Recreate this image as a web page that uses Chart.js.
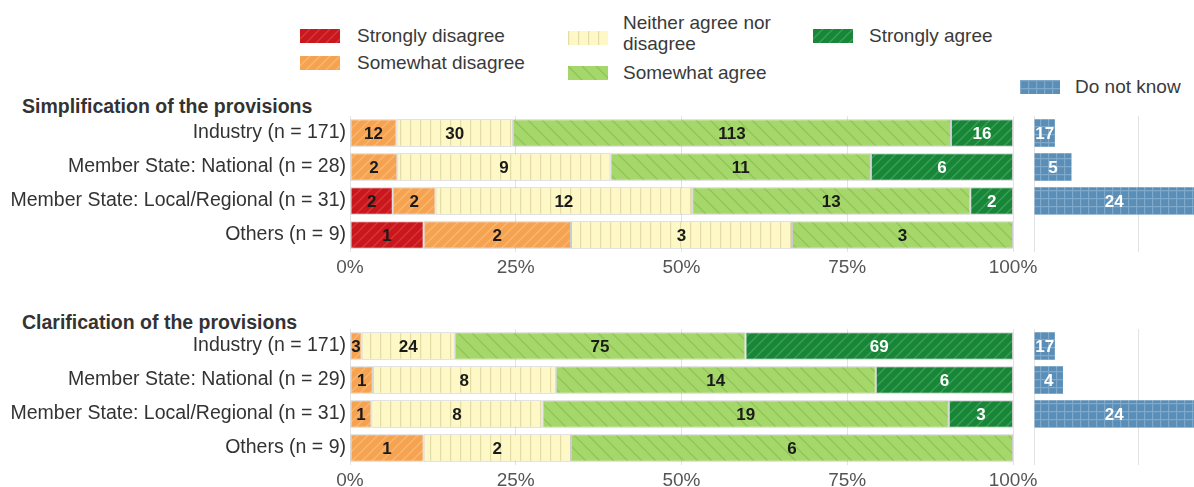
<!DOCTYPE html>
<html>
<head>
<meta charset="utf-8">
<script src="https://cdn.jsdelivr.net/npm/chart.js@4.4.0/dist/chart.umd.min.js"></script>
<style>
  html, body { margin: 0; padding: 0; overflow: hidden; background: #fff; }
  #wrap { position: relative; width: 1194px; height: 487px; overflow: hidden; background: #fff;
          font-family: "Liberation Sans", Arial, sans-serif; color: #333; }
  .box { position: absolute; }
  .sw { position: absolute; width: 40px; height: 14px; }
  .lt { position: absolute; font-size: 19px; line-height: 21px; white-space: nowrap; color: #3a3a3a; }
  .title { position: absolute; left: 22px; font-size: 19.5px; font-weight: bold; line-height: 22px; color: #333; }
</style>
</head>
<body>
<div id="wrap">
  <div class="sw" id="sw0" style="left:300px;top:29px"></div>
  <div class="lt" style="left:357px;top:25px">Strongly disagree</div>
  <div class="sw" id="sw1" style="left:300px;top:56px"></div>
  <div class="lt" style="left:357px;top:52px">Somewhat disagree</div>
  <div class="sw" id="sw2" style="left:568px;top:31px"></div>
  <div class="lt" style="left:623px;top:12px">Neither agree nor<br>disagree</div>
  <div class="sw" id="sw3" style="left:568px;top:66px"></div>
  <div class="lt" style="left:623px;top:62px">Somewhat agree</div>
  <div class="sw" id="sw4" style="left:813px;top:29px"></div>
  <div class="lt" style="left:869px;top:25px">Strongly agree</div>
  <div class="sw" id="sw5" style="left:1020px;top:80px"></div>
  <div class="lt" style="left:1075px;top:76px">Do not know</div>

  <div class="title" style="top:95px">Simplification of the provisions</div>
  <div class="title" style="top:311px">Clarification of the provisions</div>

  <div class="box" style="left:0;top:110px;width:1050px;height:173px"><canvas id="simpMain"></canvas></div>
  <div class="box" style="left:1024px;top:110px;width:170px;height:173px"><canvas id="simpDk"></canvas></div>
  <div class="box" style="left:0;top:323px;width:1050px;height:173px"><canvas id="clarMain"></canvas></div>
  <div class="box" style="left:1024px;top:323px;width:170px;height:173px"><canvas id="clarDk"></canvas></div>
</div>
<script>
const responses = ['Strongly disagree', 'Somewhat disagree', 'Neither agree nor disagree', 'Somewhat agree', 'Strongly agree'];

const simpGroups = ['Industry (n = 171)', 'Member State: National (n = 28)', 'Member State: Local/Regional (n = 31)', 'Others (n = 9)'];
const simpStrongDis = [0, 0, 2, 1];
const simpSomeDis = [12, 2, 2, 2];
const simpNeither = [30, 9, 12, 3];
const simpSomeAgree = [113, 11, 13, 3];
const simpStrongAgree = [16, 6, 2, 0];
const simpDontKnow = [17, 5, 24, 0];

const clarGroups = ['Industry (n = 171)', 'Member State: National (n = 29)', 'Member State: Local/Regional (n = 31)', 'Others (n = 9)'];
const clarStrongDis = [0, 0, 0, 0];
const clarSomeDis = [3, 1, 1, 1];
const clarNeither = [24, 8, 8, 2];
const clarSomeAgree = [75, 14, 19, 6];
const clarStrongAgree = [69, 6, 3, 0];
const clarDontKnow = [17, 4, 24, 0];

const pctTicks = [0, 25, 50, 75, 100];

Chart.defaults.font.family = '"Liberation Sans", Arial, sans-serif';
Chart.defaults.animation = false;

// small repeating tiles for the hatched fills
function tile(bg, line, kind, size) {
  const c = document.createElement('canvas');
  c.width = c.height = size;
  const g = c.getContext('2d');
  g.fillStyle = bg;
  g.fillRect(0, 0, size, size);
  g.strokeStyle = line;
  g.lineWidth = 1.4;
  g.beginPath();
  if (kind === 'slash') {
    g.moveTo(-1, size + 1); g.lineTo(size + 1, -1);
    g.moveTo(-1, 1); g.lineTo(1, -1);
    g.moveTo(size - 1, size + 1); g.lineTo(size + 1, size - 1);
  } else if (kind === 'back') {
    g.moveTo(-1, -1); g.lineTo(size + 1, size + 1);
    g.moveTo(size - 1, -1); g.lineTo(size + 1, 1);
    g.moveTo(-1, size - 1); g.lineTo(1, size + 1);
  } else if (kind === 'vert') {
    g.moveTo(0.5, 0); g.lineTo(0.5, size);
  } else if (kind === 'grid') {
    g.moveTo(0.5, 0); g.lineTo(0.5, size);
    g.moveTo(0, 0.5); g.lineTo(size, 0.5);
  }
  g.stroke();
  return c;
}

const tiles = [
  tile('#c9171d', '#d5383a', 'slash', 10),
  tile('#f6a351', '#f9b771', 'slash', 10),
  tile('#fdf8c6', '#e4dca6', 'vert', 10),
  tile('#a5d76a', '#92c559', 'back', 14),
  tile('#188539', '#38a253', 'slash', 10),
  tile('#5b8eb6', '#7ea9ca', 'grid', 8)
];
const labelColors = ['#1a1a1a', '#1a1a1a', '#1a1a1a', '#1a1a1a', '#ffffff', '#ffffff'];

tiles.forEach((t, i) => {
  const el = document.getElementById('sw' + i);
  el.style.background = 'url(' + t.toDataURL() + ')';
});

function pattern(i) {
  return document.createElement('canvas').getContext('2d').createPattern(tiles[i], 'repeat');
}

const valueLabels = {
  id: 'valueLabels',
  afterDatasetsDraw(chart) {
    const ctx = chart.ctx;
    const area = chart.chartArea;
    ctx.save();
    ctx.font = 'bold 17px "Liberation Sans", Arial, sans-serif';
    ctx.textAlign = 'center';
    ctx.textBaseline = 'middle';
    chart.data.datasets.forEach((ds, i) => {
      chart.getDatasetMeta(i).data.forEach((bar, j) => {
        const count = ds.counts[j];
        if (!count) return;
        const left = Math.max(Math.min(bar.base, bar.x), area.left);
        const right = Math.min(Math.max(bar.base, bar.x), area.right);
        ctx.fillStyle = ds.labelColor;
        ctx.fillText(String(count), (left + right) / 2, bar.y + 1);
      });
    });
    ctx.restore();
  }
};

function mainChart(id, groups, series) {
  const totals = groups.map((g, j) => series.reduce((s, arr) => s + arr[j], 0));
  new Chart(document.getElementById(id), {
    type: 'bar',
    data: {
      labels: groups,
      datasets: series.map((arr, i) => ({
        label: responses[i],
        data: arr.map((v, j) => v / totals[j] * 100),
        counts: arr,
        labelColor: labelColors[i],
        backgroundColor: pattern(i),
        borderColor: 'rgba(110,110,110,0.35)',
        borderWidth: 1,
        borderSkipped: false,
        barPercentage: 0.81,
        categoryPercentage: 1
      }))
    },
    options: {
      indexAxis: 'y',
      responsive: true,
      maintainAspectRatio: false,
      layout: { padding: { top: 6, right: 37, bottom: 0, left: 0 } },
      plugins: { legend: { display: false }, tooltip: { enabled: false } },
      scales: {
        x: {
          stacked: true,
          min: 0,
          max: 100,
          afterBuildTicks: (s) => { s.ticks = pctTicks.map(v => ({ value: v })); },
          afterFit: (s) => { s.height = 31; },
          border: { display: false },
          grid: { color: '#e3e3e3', drawTicks: false },
          ticks: { padding: 4, color: '#555', font: { size: 19 }, callback: (v) => v + '%' }
        },
        y: {
          stacked: true,
          afterFit: (s) => { s.width = 350; s.paddingTop = 0; s.paddingBottom = 0; },
          border: { display: false },
          grid: { display: false, drawTicks: false },
          ticks: { padding: 4, color: '#333', font: { size: 19.5 } }
        }
      }
    },
    plugins: [valueLabels]
  });
}

function dkChart(id, groups, series, counts) {
  new Chart(document.getElementById(id), {
    type: 'bar',
    data: {
      labels: groups,
      datasets: [{
        label: 'Do not know',
        data: counts.map((v, j) => v / series.reduce((s, arr) => s + arr[j], 0) * 100),
        counts: counts,
        labelColor: labelColors[5],
        backgroundColor: pattern(5),
        borderWidth: 0,
        barPercentage: 0.81,
        categoryPercentage: 1
      }]
    },
    options: {
      indexAxis: 'y',
      responsive: true,
      maintainAspectRatio: false,
      layout: { padding: { top: 6, right: 0, bottom: 0, left: 10 } },
      plugins: { legend: { display: false }, tooltip: { enabled: false } },
      scales: {
        x: {
          min: 0,
          max: 76.2,
          afterBuildTicks: (s) => { s.ticks = [{ value: 0 }, { value: 50 }]; },
          afterFit: (s) => { s.height = 31; },
          border: { display: false },
          grid: { color: '#e3e3e3', drawTicks: false },
          ticks: { display: false }
        },
        y: { display: false }
      }
    },
    plugins: [valueLabels]
  });
}

const simpSeries = [simpStrongDis, simpSomeDis, simpNeither, simpSomeAgree, simpStrongAgree];
const clarSeries = [clarStrongDis, clarSomeDis, clarNeither, clarSomeAgree, clarStrongAgree];

mainChart('simpMain', simpGroups, simpSeries);
dkChart('simpDk', simpGroups, simpSeries, simpDontKnow);
mainChart('clarMain', clarGroups, clarSeries);
dkChart('clarDk', clarGroups, clarSeries, clarDontKnow);
</script>
</body>
</html>
